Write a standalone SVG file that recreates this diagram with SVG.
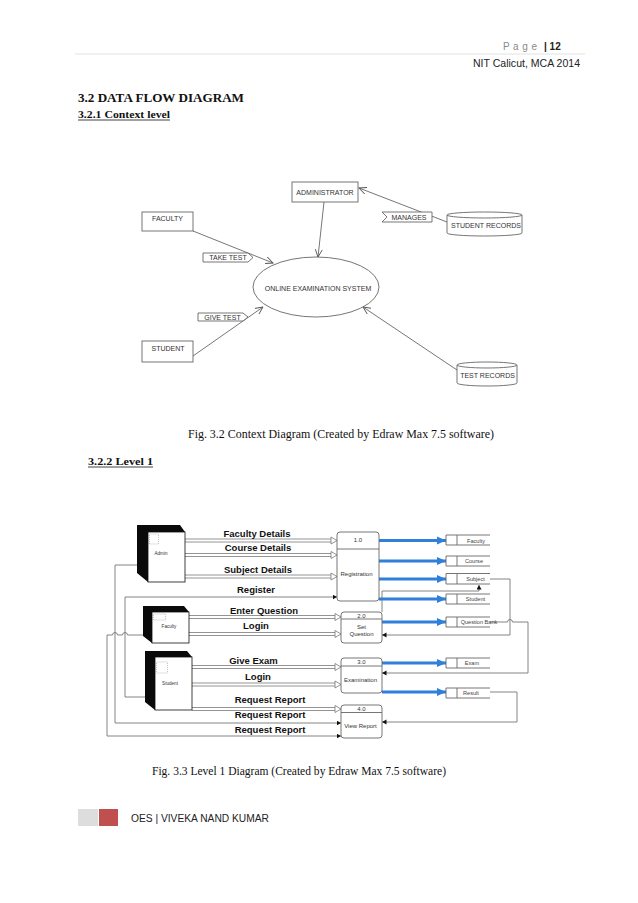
<svg xmlns="http://www.w3.org/2000/svg" width="638" height="903" viewBox="0 0 638 903">
<style>
.hdr{font-family:"Liberation Sans",Arial,sans-serif;font-size:10px;fill:#222}
.h1{font-family:"Liberation Serif","Times New Roman",serif;font-weight:bold;fill:#111}
.cap{font-family:"Liberation Serif","Times New Roman",serif;font-size:12px;fill:#111}
.cbox{fill:#fff;stroke:#666;stroke-width:0.9}
.ct{font-family:"Liberation Sans",Arial,sans-serif;font-size:7px;fill:#333;text-anchor:middle}
.cl{fill:none;stroke:#666;stroke-width:0.9}
.ent{fill:#fff;stroke:#111;stroke-width:0.8}
.entb{fill:#0a0a0a}
.icon{fill:none;stroke:#999;stroke-width:0.6;stroke-dasharray:1,1}
.et{font-family:"Liberation Sans",Arial,sans-serif;font-size:4.6px;fill:#333;text-anchor:middle}
.proc{fill:#fff;stroke:#666;stroke-width:0.9}
.pt{font-family:"Liberation Sans",Arial,sans-serif;font-size:6px;fill:#333;text-anchor:middle}
.st{fill:none;stroke:#666;stroke-width:0.9}
.stt{font-family:"Liberation Sans",Arial,sans-serif;font-size:5.6px;fill:#444;text-anchor:middle}
.fl{font-family:"Liberation Sans",Arial,sans-serif;font-size:9.5px;font-weight:bold;fill:#111;text-anchor:middle}
.dl{fill:none;stroke:#888;stroke-width:0.9}
.ha{fill:#fff;stroke:#777;stroke-width:0.8}
.sl{fill:none;stroke:#777;stroke-width:0.9}
.bl{fill:none;stroke:#2F7FDB;stroke-width:3.2}
</style>
<defs>
<marker id="vopen" markerWidth="9" markerHeight="9" refX="7.5" refY="4" orient="auto" markerUnits="userSpaceOnUse"><path d="M0,0.5 L7.5,4 L0,7.5" fill="none" stroke="#555" stroke-width="0.9"/></marker>
<marker id="blue" markerWidth="11" markerHeight="11" refX="9" refY="5" orient="auto" markerUnits="userSpaceOnUse"><path d="M0,1 L9,5 L0,9 Z" fill="#2F7FDB"/></marker>
<marker id="blk" markerWidth="6" markerHeight="6" refX="4.5" refY="2.5" orient="auto" markerUnits="userSpaceOnUse"><path d="M0,0 L4.5,2.5 L0,5 Z" fill="#111"/></marker>
</defs>
<rect width="638" height="903" fill="#fff"/>

<g id="header">
<line x1="75" y1="54" x2="585" y2="54" stroke="#DADADA" stroke-width="0.8"/>
<text x="503" y="50" class="hdr" style="fill:#8a8a8a" textLength="34" lengthAdjust="spacing">P a g e</text>
<text x="544" y="50" class="hdr" style="font-weight:bold">| 12</text>
<text x="580" y="67" class="hdr" text-anchor="end" textLength="107" lengthAdjust="spacingAndGlyphs">NIT Calicut, MCA 2014</text>
</g>

<g id="headings">
<text x="78" y="102" class="h1" font-size="12.5" textLength="166" lengthAdjust="spacingAndGlyphs">3.2 DATA FLOW DIAGRAM</text>
<text x="78" y="118" class="h1" font-size="11" textLength="92" lengthAdjust="spacingAndGlyphs">3.2.1 Context level</text>
<line x1="78" y1="120" x2="170" y2="120" stroke="#111" stroke-width="0.8"/>
<text x="88" y="465" class="h1" font-size="11" textLength="65" lengthAdjust="spacingAndGlyphs">3.2.2 Level 1</text>
<line x1="88" y1="467" x2="153" y2="467" stroke="#111" stroke-width="0.8"/>
</g>

<g id="ctx-connectors">
<line x1="193" y1="231" x2="273" y2="263" class="cl" marker-end="url(#vopen)"/>
<line x1="324" y1="202" x2="318" y2="257" class="cl" marker-end="url(#vopen)"/>
<line x1="447" y1="222" x2="359" y2="188" class="cl" marker-end="url(#vopen)"/>
<line x1="193" y1="356" x2="263" y2="307" class="cl" marker-end="url(#vopen)"/>
<line x1="457" y1="370" x2="363" y2="307" class="cl" marker-end="url(#vopen)"/>
</g>
<g id="ctx-admin"><rect x="292" y="182" width="66" height="20" class="cbox"/><text x="325" y="194.5" class="ct">ADMINISTRATOR</text></g>
<g id="ctx-faculty"><rect x="142" y="212" width="51" height="19" class="cbox"/><text x="167.5" y="220.5" class="ct">FACULTY</text></g>
<g id="ctx-student"><rect x="142" y="341" width="51" height="21" class="cbox"/><text x="168" y="350.5" class="ct">STUDENT</text></g>
<g id="ctx-system"><ellipse cx="316" cy="287" rx="63" ry="30" class="cbox"/><text x="318" y="290.5" class="ct">ONLINE EXAMINATION SYSTEM</text></g>
<g id="ctx-taketest"><polygon points="203,253 248,253 253,257.5 248,262 203,262" class="cbox"/><text x="228" y="260" class="ct">TAKE TEST</text></g>
<g id="ctx-givetest"><polygon points="198,313 243,313 248,317 243,321 198,321" class="cbox"/><text x="222.5" y="319.7" class="ct">GIVE TEST</text></g>
<g id="ctx-manages"><polygon points="382,212 432,212 432,222 382,222 387,217" class="cbox"/><text x="409" y="219.7" class="ct">MANAGES</text></g>
<g id="ctx-studentrecords">
<path d="M447,215 A37.5,3 0 0 1 522,215 L522,233 A37.5,3 0 0 1 447,233 Z" class="cbox"/>
<path d="M447,215 A37.5,3 0 0 0 522,215" class="cl"/>
<text x="486" y="227.5" class="ct">STUDENT RECORDS</text>
</g>
<g id="ctx-testrecords">
<path d="M457,365 A30,3 0 0 1 517,365 L517,383 A30,3 0 0 1 457,383 Z" class="cbox"/>
<path d="M457,365 A30,3 0 0 0 517,365" class="cl"/>
<text x="487.5" y="377.5" class="ct">TEST RECORDS</text>
</g>

<text x="188" y="438" class="cap" textLength="306" lengthAdjust="spacingAndGlyphs">Fig. 3.2 Context  Diagram (Created by Edraw Max 7.5  software)</text>

<g id="l1-connectors">
<path d="M185,539 H332 M185,542 H332" class="dl"/><polygon points="331,537 337,540.5 331,544" class="ha"/>
<path d="M185,553.5 H332 M185,556.5 H332" class="dl"/><polygon points="331,551.5 337,555 331,558.5" class="ha"/>
<path d="M185,575 H332 M185,578 H332" class="dl"/><polygon points="331,573 337,576.5 331,580" class="ha"/>
<path d="M189,615.5 H336 M189,618.5 H336" class="dl"/><polygon points="335,613.5 341,617 335,620.5" class="ha"/>
<path d="M189,632.5 H336 M189,635.5 H336" class="dl"/><polygon points="335,630.5 341,634 335,637.5" class="ha"/>
<path d="M192,665.5 H336 M192,668.5 H336" class="dl"/><polygon points="335,663.5 341,667 335,670.5" class="ha"/>
<path d="M192,683 H336 M192,686 H336" class="dl"/><polygon points="335,681 341,684.5 335,688" class="ha"/>
<path d="M192,707.5 H336 M192,710.5 H336" class="dl"/><polygon points="335,705.5 341,709 335,712.5" class="ha"/>
<path d="M137,565 H115 V723 H341" class="sl" marker-end="url(#blk)"/>
<path d="M143,635 H127.5 A2.5,2.5 0 0 0 122.5,635 H117.5 A2.5,2.5 0 0 0 112.5,635 H107 V736 H341" class="sl" marker-end="url(#blk)"/>
<path d="M145,697 H125 V597 H337" class="sl" marker-end="url(#blk)"/>
<path d="M382,612 V591 H479 V585" class="sl" marker-end="url(#blk)"/>
<path d="M490,579 H510 V635 H382" class="sl" marker-end="url(#blk)"/>
<path d="M490,622 H507.5 A2.5,2.5 0 0 1 512.5,622 H528 V673 H382" class="sl" marker-end="url(#blk)"/>
<path d="M490,692 H517 V722 H382" class="sl" marker-end="url(#blk)"/>
<line x1="379" y1="540.5" x2="446" y2="540.5" class="bl" marker-end="url(#blue)"/>
<line x1="379" y1="561" x2="446" y2="561" class="bl" marker-end="url(#blue)"/>
<line x1="379" y1="579" x2="446" y2="579" class="bl" marker-end="url(#blue)"/>
<line x1="379" y1="599" x2="446" y2="599" class="bl" marker-end="url(#blue)"/>
<line x1="382" y1="622" x2="446" y2="622" class="bl" marker-end="url(#blue)"/>
<line x1="382" y1="663" x2="446" y2="663" class="bl" marker-end="url(#blue)"/>
<line x1="382" y1="692" x2="446" y2="692" class="bl" marker-end="url(#blue)"/>
<text x="257" y="536.5" class="fl">Faculty Details</text>
<text x="258" y="551" class="fl">Course Details</text>
<text x="258" y="572.5" class="fl">Subject Details</text>
<text x="256" y="593" class="fl">Register</text>
<text x="264" y="614" class="fl">Enter Question</text>
<text x="256" y="629" class="fl">Login</text>
<text x="253.5" y="664" class="fl">Give Exam</text>
<text x="258" y="680" class="fl">Login</text>
<text x="270" y="703" class="fl">Request Report</text>
<text x="270" y="718" class="fl">Request Report</text>
<text x="270" y="732.5" class="fl">Request Report</text>
</g>

<g id="l1-admin">
<polygon points="137,525 180,525 185,532 148,532 148,582 137,573" class="entb"/>
<rect x="148" y="532" width="37" height="50" class="ent"/>
<rect x="149.5" y="534" width="9" height="10" class="icon"/>
<text x="161" y="554.5" class="et">Admin</text>
</g>
<g id="l1-faculty">
<polygon points="143,606 184,606 189,612 152,612 152,643 143,636" class="entb"/>
<rect x="152" y="612" width="37" height="31" class="ent"/>
<rect x="153.5" y="614" width="12" height="6" class="icon"/>
<text x="169" y="628" class="et">Faculty</text>
</g>
<g id="l1-student">
<polygon points="145,651 187,651 192,657 155,657 155,710 145,702" class="entb"/>
<rect x="155" y="657" width="37" height="53" class="ent"/>
<rect x="156.5" y="662" width="11" height="11" class="icon"/>
<text x="170" y="685" class="et">Student</text>
</g>

<g id="l1-p1"><rect x="337" y="532" width="42" height="69" rx="3" class="proc"/><line x1="337" y1="549" x2="379" y2="549" class="st"/><text x="358" y="542" class="pt" font-size="5">1.0</text><text x="356.5" y="576" class="pt">Registration</text></g>
<g id="l1-p2"><rect x="341" y="612" width="41" height="31" rx="3" class="proc"/><line x1="341" y1="619" x2="382" y2="619" class="st"/><text x="361.5" y="617.5" class="pt" font-size="5">2.0</text><text x="361.5" y="629" class="pt">Set</text><text x="361.5" y="636" class="pt">Question</text></g>
<g id="l1-p3"><rect x="341" y="658" width="41" height="35" rx="3" class="proc"/><line x1="341" y1="666" x2="382" y2="666" class="st"/><text x="361.5" y="664" class="pt" font-size="5">3.0</text><text x="360.5" y="682" class="pt">Examination</text></g>
<g id="l1-p4"><rect x="341" y="705" width="41" height="33" rx="3" class="proc"/><line x1="341" y1="712.5" x2="382" y2="712.5" class="st"/><text x="361.5" y="711" class="pt" font-size="5">4.0</text><text x="360.5" y="728" class="pt">View Report</text></g>

<g id="l1-ds-faculty"><path d="M490,535 H446 V545 H490 M457,535 V545" class="st"/><text x="476" y="542.5" class="stt">Faculty</text></g>
<g id="l1-ds-course"><path d="M490,556 H446 V566 H490 M457,556 V566" class="st"/><text x="474" y="563" class="stt">Course</text></g>
<g id="l1-ds-subject"><path d="M490,573.5 H446 V584 H490 M457,573.5 V584" class="st"/><text x="475.5" y="580.5" class="stt">Subject</text></g>
<g id="l1-ds-student"><path d="M490,594 H446 V604 H490 M457,594 V604" class="st"/><text x="475.5" y="601" class="stt">Student</text></g>
<g id="l1-ds-qbank"><path d="M490,617 H446 V627 H490 M457,617 V627" class="st"/><text x="479" y="624" class="stt">Question Bank</text></g>
<g id="l1-ds-exam"><path d="M490,658 H446 V668 H490 M457,658 V668" class="st"/><text x="472" y="665" class="stt">Exam</text></g>
<g id="l1-ds-result"><path d="M490,688 H446 V698 H490 M457,688 V698" class="st"/><text x="471" y="695" class="stt">Result</text></g>

<text x="152" y="775" class="cap" textLength="294" lengthAdjust="spacingAndGlyphs">Fig. 3.3 Level 1 Diagram (Created by Edraw Max 7.5  software)</text>

<g id="footer">
<rect x="78" y="809" width="20" height="17" fill="#DDDDDD"/>
<rect x="99" y="809" width="19" height="17" fill="#C0504D"/>
<text x="131" y="822" class="hdr" textLength="138" lengthAdjust="spacingAndGlyphs">OES | VIVEKA NAND KUMAR</text>
</g>
</svg>
